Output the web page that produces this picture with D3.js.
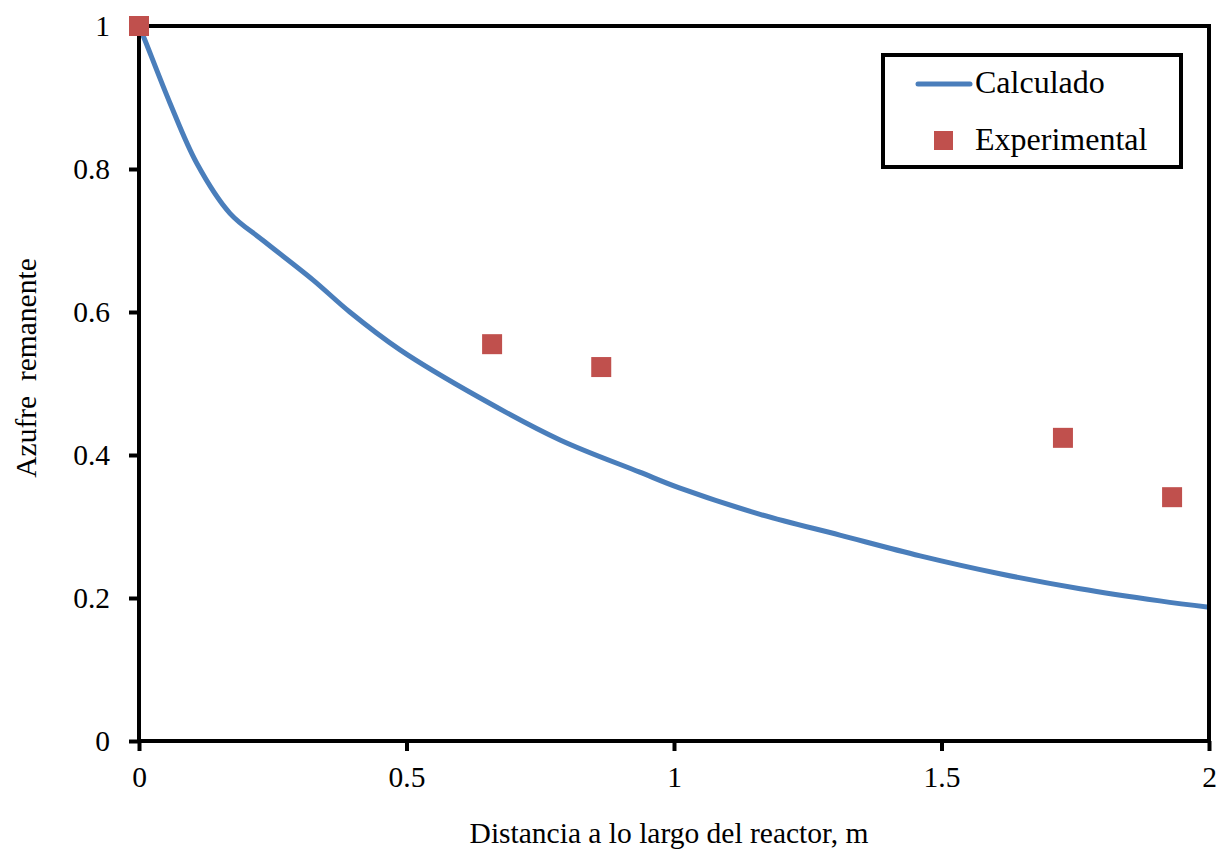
<!DOCTYPE html>
<html><head><meta charset="utf-8">
<script src="https://cdn.jsdelivr.net/npm/d3@7"></script>
<style>body{margin:0;background:#fff;} text{font-family:"Liberation Serif","Times New Roman",serif;}</style>
</head><body>
<svg id="c" width="1224" height="850"></svg>
<script>
const calcX = [0, 0.008, 0.058, 0.108, 0.17, 0.232, 0.325, 0.394, 0.488, 0.637, 0.787, 0.936, 1.01, 1.161, 1.31, 1.46, 1.609, 1.759, 1.908, 2.0];
const calcY = [1, 0.986, 0.892, 0.808, 0.738, 0.70, 0.645, 0.6, 0.547, 0.48, 0.421, 0.376, 0.354, 0.317, 0.288, 0.259, 0.234, 0.213, 0.196, 0.187];
const expX = [0, 0.66, 0.864, 1.727, 1.931];
const expY = [1, 0.555, 0.523, 0.424, 0.341];
const xTicks = [0, 0.5, 1, 1.5, 2];
const yTicks = [0, 0.2, 0.4, 0.6, 0.8, 1];
const seriesNames = ["Calculado", "Experimental"];

const svg = d3.select("#c");
const L = 139, R = 1209, T = 26, B = 741;
const x = d3.scaleLinear().domain([0, 2]).range([L, R]);
const y = d3.scaleLinear().domain([0, 1]).range([B, T]);
const FS = 29.5;

const xa = svg.append("g").attr("transform", `translate(0,${B})`)
  .call(d3.axisBottom(x).tickValues(xTicks).tickFormat(d => d3.format("")(d)).tickSize(10).tickSizeOuter(0).tickPadding(15));
xa.select(".domain").remove();
xa.attr("font-family", null).attr("font-size", null);
xa.selectAll("line").attr("stroke", "#000").attr("stroke-width", 4);
xa.selectAll("text").attr("font-size", FS).attr("fill", "#000");

const ya = svg.append("g").attr("transform", `translate(${L},0)`)
  .call(d3.axisLeft(y).tickValues(yTicks).tickFormat(d => d3.format("")(d)).tickSize(10).tickSizeOuter(0).tickPadding(19));
ya.select(".domain").remove();
ya.attr("font-family", null).attr("font-size", null);
ya.selectAll("line").attr("stroke", "#000").attr("stroke-width", 4);
ya.selectAll("text").attr("font-size", FS).attr("fill", "#000");

const line = d3.line().x((d, i) => x(calcX[i])).y((d, i) => y(calcY[i])).curve(d3.curveCatmullRom.alpha(0.5));
svg.append("path").datum(calcY).attr("d", line).attr("fill", "none")
  .attr("stroke", "#4A7EBB").attr("stroke-width", 5).attr("stroke-linejoin", "round");

svg.append("rect").attr("x", L).attr("y", T).attr("width", R - L).attr("height", B - T)
  .attr("fill", "none").attr("stroke", "#000").attr("stroke-width", 4);

const ms = 20;
svg.selectAll("rect.pt").data(expX).join("rect").attr("class", "pt")
  .attr("x", (d) => x(d) - ms / 2).attr("y", (d, i) => y(expY[i]) - ms / 2)
  .attr("width", ms).attr("height", ms).attr("fill", "#C0504D");

svg.append("text").attr("x", 669).attr("y", 843).attr("text-anchor", "middle")
  .attr("font-size", FS).text("Distancia a lo largo del reactor, m");
svg.append("text").attr("transform", "translate(36,368) rotate(-90)").attr("text-anchor", "middle")
  .attr("font-size", FS).attr("xml:space", "preserve").style("white-space", "pre").text("Azufre  remanente");

const lg = svg.append("g");
lg.append("rect").attr("x", 883).attr("y", 55).attr("width", 298).attr("height", 112)
  .attr("fill", "#fff").attr("stroke", "#000").attr("stroke-width", 4);
lg.append("line").attr("x1", 918).attr("x2", 970).attr("y1", 84).attr("y2", 84)
  .attr("stroke", "#4A7EBB").attr("stroke-width", 5).attr("stroke-linecap", "round");
lg.append("text").attr("x", 975).attr("y", 93).attr("font-size", 32).text(seriesNames[0]);
lg.append("rect").attr("x", 934).attr("y", 131).attr("width", 19).attr("height", 19).attr("fill", "#C0504D");
lg.append("text").attr("x", 975).attr("y", 150).attr("font-size", 32).text(seriesNames[1]);
</script>
</body></html>
